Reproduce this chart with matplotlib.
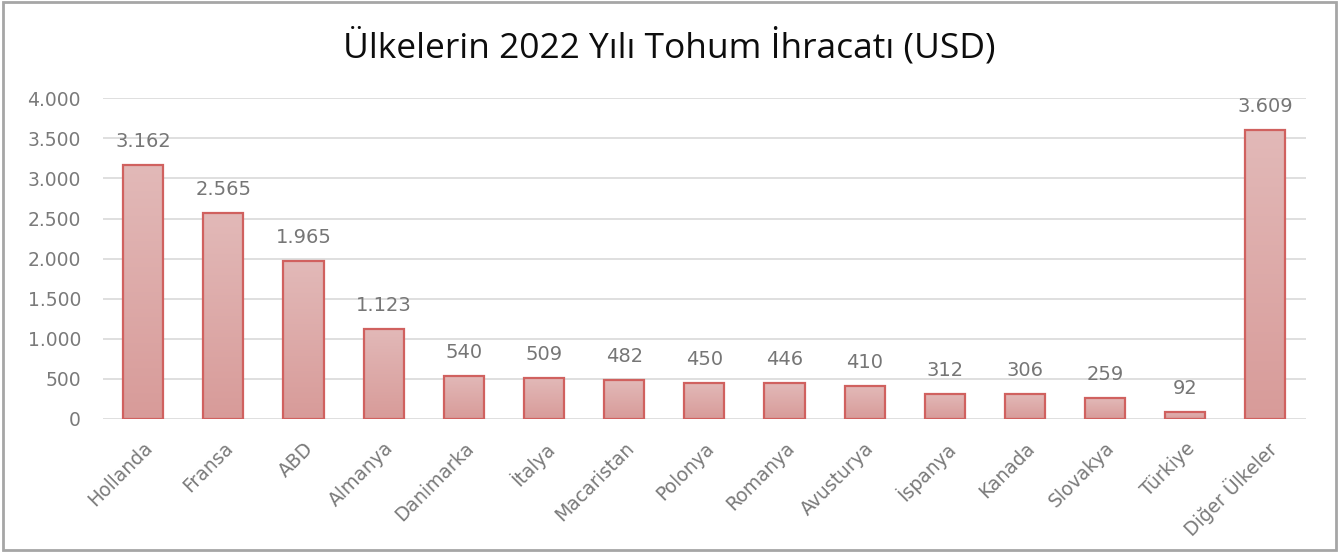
import numpy as np
import matplotlib.pyplot as plt
from matplotlib.patches import Rectangle
from matplotlib.colors import LinearSegmentedColormap

ulkeler = ['Hollanda', 'Fransa', 'ABD', 'Almanya', 'Danimarka', 'İtalya',
           'Macaristan', 'Polonya', 'Romanya', 'Avusturya', 'İspanya',
           'Kanada', 'Slovakya', 'Türkiye', 'Diğer Ülkeler']
ihracat = [3162, 2565, 1965, 1123, 540, 509, 482, 450, 446, 410, 312,
           306, 259, 92, 3609]
y_ticks = [0, 500, 1000, 1500, 2000, 2500, 3000, 3500, 4000]

plt.rcParams['font.family'] = ['DejaVu Sans']

fig = plt.figure(figsize=(13.39, 5.52), dpi=100)
ax = fig.add_axes([0.077, 0.241, 0.898, 0.581])

# bar gradient, light on top darker at the bottom
cmap = LinearSegmentedColormap.from_list('bar', ['#d89b99', '#e2b9b8'])
grad = np.linspace(0, 1, 256).reshape(-1, 1)

x = np.arange(len(ulkeler))
w = 0.5
bars = ax.bar(x, ihracat, width=w, color='none', edgecolor='#d0615f',
              linewidth=1.6, zorder=3)
for b in bars:
    bx, by = b.get_x(), b.get_y()
    bw, bh = b.get_width(), b.get_height()
    im = ax.imshow(grad, cmap=cmap, origin='lower', aspect='auto',
                   extent=[bx, bx + bw, by, by + bh], zorder=2)
    im.set_clip_path(Rectangle((bx, by), bw, bh, transform=ax.transData))

for xi, v in zip(x, ihracat):
    ax.text(xi, v + 175, '{:,}'.format(v).replace(',', '.'), ha='center',
            va='bottom', fontsize=14, color='#767676')

ax.set_xlim(-0.5, len(ulkeler) - 0.5)
ax.set_ylim(0, 4000)
ax.set_yticks(y_ticks)
ax.set_yticklabels(['{:,}'.format(t).replace(',', '.') for t in y_ticks])
ax.set_xticks(x)
ax.set_xticklabels(ulkeler, rotation=45, ha='right', rotation_mode='anchor')
ax.tick_params(axis='both', length=0, labelsize=13.5, labelcolor='#7a7a7a')
ax.tick_params(axis='y', pad=16)
ax.tick_params(axis='x', pad=14)
ax.grid(axis='y', color='#d9d9d9', linewidth=1.2, zorder=0)
ax.set_axisbelow(True)
for s in ax.spines.values():
    s.set_visible(False)

fig.suptitle('Ülkelerin 2022 Yılı Tohum İhracatı (USD)', fontsize=25.5,
             family='Open Sans', color='#0d0d0d', y=0.95)

# grey frame round the whole chart
fig.patches.append(Rectangle((0.002, 0.004), 0.996, 0.992, transform=fig.transFigure,
                             fill=False, edgecolor='#a6a6a6', linewidth=2))

fig.savefig('out.png', dpi=100)
